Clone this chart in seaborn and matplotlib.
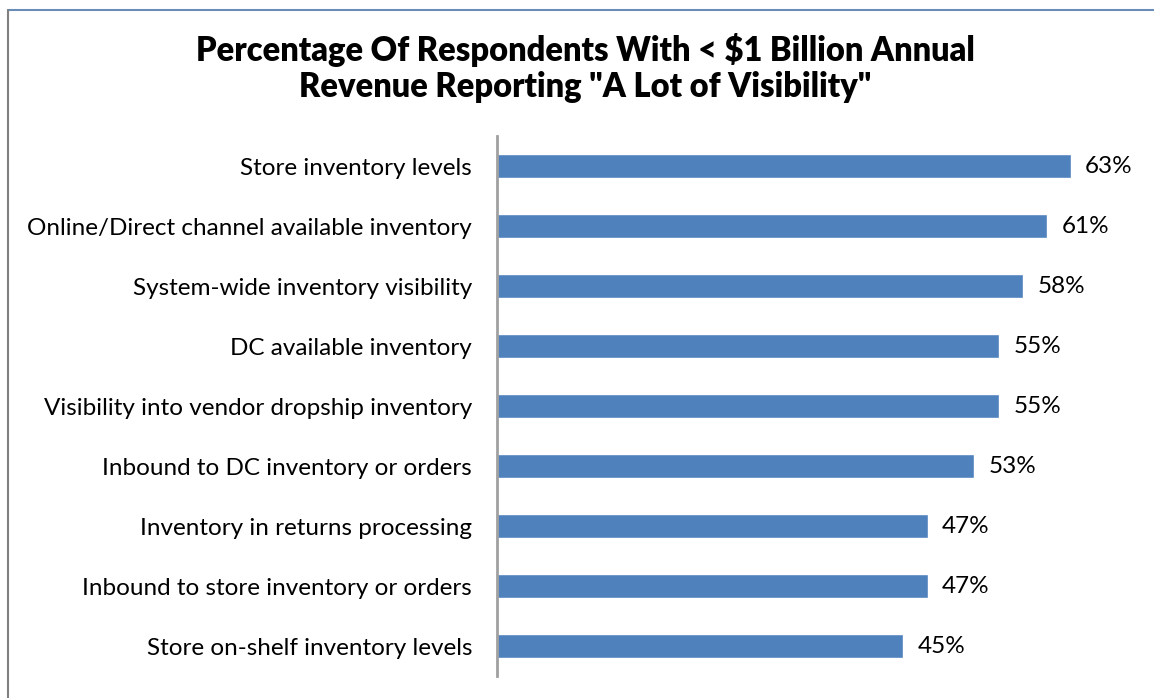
import matplotlib
matplotlib.use("Agg")
import matplotlib.pyplot as plt
import seaborn as sns
import pandas as pd
from matplotlib.lines import Line2D

categories = [
    "Store inventory levels",
    "Online/Direct channel available inventory",
    "System-wide inventory visibility",
    "DC available inventory",
    "Visibility into vendor dropship inventory",
    "Inbound to DC inventory or orders",
    "Inventory in returns processing",
    "Inbound to store inventory or orders",
    "Store on-shelf inventory levels",
]
# bar lengths (labels are the rounded figures)
values = [63.0, 60.4, 57.8, 55.1, 55.1, 52.4, 47.3, 47.3, 44.6]
value_labels = ["63%", "61%", "58%", "55%", "55%", "53%", "47%", "47%", "45%"]

sns.set_theme(style="white")
plt.rcParams['font.family'] = ['Lato', 'DejaVu Sans']

df = pd.DataFrame({"category": categories, "value": values})

fig = plt.figure(figsize=(11.54, 6.98), dpi=100)
ax = fig.add_axes([0.4307, 0.0315, 0.568, 0.7736])

sns.barplot(data=df, x="value", y="category", color="#4F81BD", saturation=1,
            width=0.4, ax=ax)

ax.set_xlim(0, 72)
ax.set_ylim(8.5, -0.5)
ax.set_xlabel("")
ax.set_ylabel("")
ax.set_xticks([])
for side in ["top", "right", "bottom"]:
    ax.spines[side].set_visible(False)
ax.spines["left"].set_color("#A0A0A0")
ax.spines["left"].set_linewidth(2)
ax.tick_params(axis="y", length=0, pad=18, labelsize=17.5, labelcolor="black")

for i, (v, lab) in enumerate(zip(values, value_labels)):
    ax.text(v + 1.6, i, lab, va="center", ha="left", fontsize=17.5, color="black")

fig.text(0.507, 0.928, "Percentage Of Respondents With < $1 Billion Annual",
         ha="center", va="center", fontsize=23.5, fontweight="heavy", color="black")
fig.text(0.507, 0.875, "Revenue Reporting \"A Lot of Visibility\"",
         ha="center", va="center", fontsize=23.5, fontweight="heavy", color="black")

# frame around chart area
fig.add_artist(Line2D([8 / 1154, 1], [1 - 10 / 698, 1 - 10 / 698],
                      transform=fig.transFigure, color="#6A8CB8", linewidth=1.5))
fig.add_artist(Line2D([8 / 1154, 8 / 1154], [0, 1 - 10 / 698],
                      transform=fig.transFigure, color="#808080", linewidth=1.5))

fig.savefig("out.png", dpi=100)
